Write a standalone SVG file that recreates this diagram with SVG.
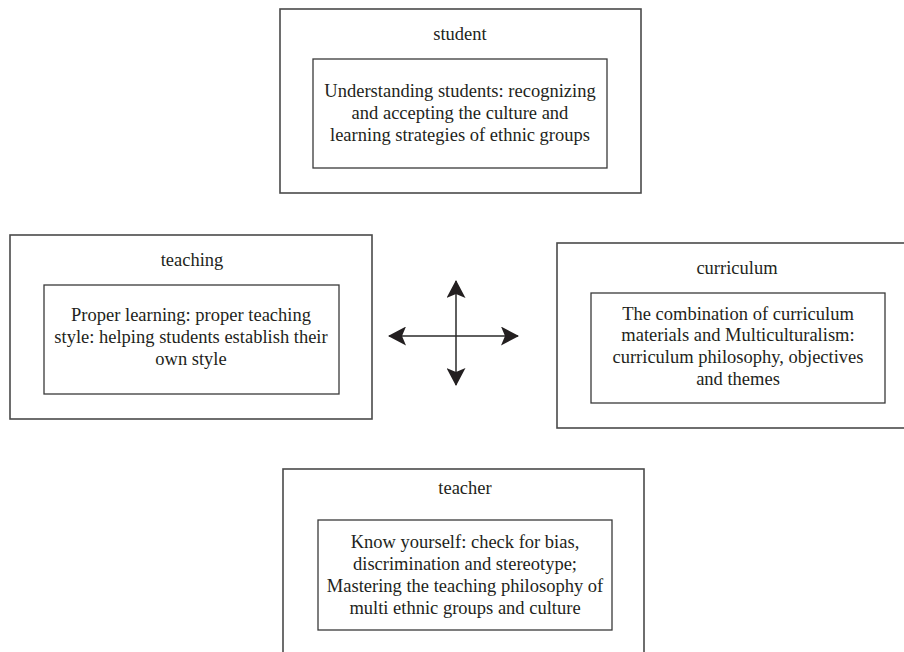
<svg xmlns="http://www.w3.org/2000/svg" width="904" height="652" viewBox="0 0 904 652">
<style>
.outer{fill:none;stroke:#4a4a4a;stroke-width:1.6}
.inner{fill:none;stroke:#3a3a3a;stroke-width:1.3}
text{font-family:"Liberation Serif","Times New Roman",serif;font-size:18.5px;fill:#231f20;text-anchor:middle}
.ln{stroke:#2a2a2a;stroke-width:1.5;fill:none}
</style>
<defs>
<marker id="ah" viewBox="0 0 18 19" refX="17" refY="9.5" markerWidth="18" markerHeight="19" markerUnits="userSpaceOnUse" orient="auto">
<path d="M0,0 L18,9.5 L0,19 L4,9.5 Z" fill="#231f20"/>
</marker>
</defs>
<rect width="904" height="652" fill="#fff"/>
<g id="student">
<rect class="outer" x="280" y="9" width="361" height="184"/>
<text x="460" y="40">student</text>
<rect class="inner" x="313" y="59" width="294" height="109"/>
<text x="460" y="97">Understanding students: recognizing</text>
<text x="460" y="119">and accepting the culture and</text>
<text x="460" y="141">learning strategies of ethnic groups</text>
</g>
<g id="teaching">
<rect class="outer" x="10" y="235" width="362" height="184"/>
<text x="192" y="266">teaching</text>
<rect class="inner" x="44" y="285" width="295" height="109"/>
<text x="191" y="321">Proper learning: proper teaching</text>
<text x="191" y="343">style: helping students establish their</text>
<text x="191" y="365">own style</text>
</g>
<g id="curriculum">
<rect class="outer" x="557" y="243" width="360" height="185"/>
<text x="737" y="274">curriculum</text>
<rect class="inner" x="591" y="293" width="294" height="110"/>
<text x="738" y="320">The combination of curriculum</text>
<text x="738" y="341">materials and Multiculturalism:</text>
<text x="738" y="363">curriculum philosophy, objectives</text>
<text x="738" y="385">and themes</text>
</g>
<g id="teacher">
<rect class="outer" x="283" y="469" width="361" height="200"/>
<text x="465" y="494">teacher</text>
<rect class="inner" x="318" y="520" width="294" height="110"/>
<text x="465" y="548">Know yourself: check for bias,</text>
<text x="465" y="570">discrimination and stereotype;</text>
<text x="465" y="592">Mastering the teaching philosophy of</text>
<text x="465" y="614">multi ethnic groups and culture</text>
</g>
<g id="connectors">
<line class="ln" x1="456" y1="336" x2="456" y2="281" marker-end="url(#ah)"/>
<line class="ln" x1="456" y1="336" x2="456" y2="385" marker-end="url(#ah)"/>
<line class="ln" x1="456" y1="336" x2="389" y2="336" marker-end="url(#ah)"/>
<line class="ln" x1="456" y1="336" x2="518" y2="336" marker-end="url(#ah)"/>
</g>
</svg>
